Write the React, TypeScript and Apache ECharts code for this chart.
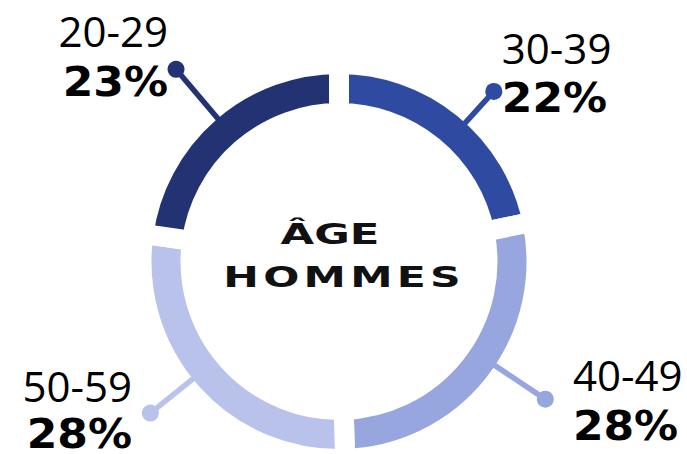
import React, { useEffect, useRef } from "react";
import * as echarts from "echarts";

// ---- data ----
const categories = ["30-39", "40-49", "50-59", "20-29"];
const values = [22, 28, 28, 23];
const pctLabels = ["22%", "28%", "28%", "23%"];
const colors = ["#2F4BA1", "#97A6DE", "#B8C2EA", "#233272"];
const titleLines = ["ÂGE", "HOMMES"];

// ---- layout / style ----
const W = 687;
const H = 454;
const CX = 339;
const CY = 261.5;
const R_OUT = 187.5;
const R_IN = 158.5;
const GAP = 20;
// annotation style per slice: angle nudge (deg), dot distance, text offsets
const annot = [
  { nudge: 3.1, dist: 230, dx: 8, align: "left", rangeDy: -44, pctDy: 6.4 },
  { nudge: -4.6, dist: 248, dx: 27.6, align: "left", rangeDy: -24.6, pctDy: 26.6 },
  { nudge: 3.1, dist: 242, dx: -18.3, align: "right", rangeDy: -27.9, pctDy: 21.2 },
  { nudge: 0.7, dist: 252, dx: -8, align: "right", rangeDy: -38.6, pctDy: 13.3 },
];

function pt(r: number, deg: number): [number, number] {
  const a = (deg * Math.PI) / 180;
  return [CX + r * Math.sin(a), CY - r * Math.cos(a)];
}

export default function App() {
  const ref = useRef<HTMLDivElement>(null);
  useEffect(() => {
    document.body.style.margin = "0";
    const chart = echarts.init(ref.current!, null, { renderer: "svg" });
    const total = values.reduce((s, v) => s + v, 0);
    let acc = 0;
    const mids = values.map((v) => {
      const m = ((acc + v / 2) / total) * 360;
      acc += v;
      return m;
    });
    const graphics: any[] = [];
    mids.forEach((m, i) => {
      const a = annot[i];
      const ang = m + a.nudge;
      const [x1, y1] = pt(R_OUT - 4, ang);
      const [x2, y2] = pt(a.dist, ang);
      graphics.push({
        type: "line",
        silent: true,
        z: 100,
        shape: { x1, y1, x2, y2 },
        style: { stroke: colors[i], lineWidth: 5.5 },
      });
      graphics.push({
        type: "circle",
        silent: true,
        z: 101,
        shape: { cx: x2, cy: y2, r: 8.5 },
        style: { fill: colors[i] },
      });
      graphics.push({
        type: "text",
        z: 102,
        x: x2 + a.dx,
        y: y2 + a.rangeDy,
        style: {
          text: categories[i],
          fontFamily: "'Open Sans', 'Noto Sans', sans-serif",
          fontSize: 42,
          fontWeight: "normal",
          lineHeight: 34,
          fill: "#000",
          align: a.align,
          textAlign: a.align,
          verticalAlign: "middle",
          textVerticalAlign: "middle",
        },
      });
      graphics.push({
        type: "text",
        z: 102,
        x: x2 + a.dx,
        y: y2 + a.pctDy,
        scaleX: 1.1,
        style: {
          text: pctLabels[i],
          fontFamily: "'DejaVu Sans', sans-serif",
          fontSize: 40,
          fontWeight: "bold",
          lineHeight: 30,
          fill: "#000",
          align: a.align,
          textAlign: a.align,
          verticalAlign: "middle",
          textVerticalAlign: "middle",
        },
      });
    });
    const titleStyle = {
      fontFamily: "'DejaVu Sans', sans-serif",
      fontSize: 28,
      fontWeight: "bold",
      fill: "#111",
      align: "center",
      textAlign: "center",
      verticalAlign: "middle",
      textVerticalAlign: "middle",
    };
    graphics.push({
      type: "text",
      z: 102,
      x: 330,
      y: 234.5,
      scaleX: 1.55,
      style: { ...titleStyle, text: titleLines[0] },
    });
    graphics.push({
      type: "text",
      z: 102,
      x: 342,
      y: 277.5,
      scaleX: 1.52,
      style: { ...titleStyle, text: titleLines[1].split("").join("\u200A") },
    });

    chart.setOption({
      animation: false,
      backgroundColor: "#fff",
      series: [
        {
          type: "pie",
          center: [CX, CY],
          radius: [R_IN - GAP / 2, R_OUT + GAP / 2],
          startAngle: 90,
          clockwise: true,
          silent: true,
          z: 1,
          label: { show: false },
          labelLine: { show: false },
          itemStyle: { borderColor: "#fff", borderWidth: GAP },
          data: categories.map((c, i) => ({
            name: c,
            value: values[i],
            itemStyle: { color: colors[i] },
          })),
        },
      ],
      graphic: graphics,
    });
    return () => chart.dispose();
  }, []);
  return <div ref={ref} style={{ width: W, height: H }} />;
}
